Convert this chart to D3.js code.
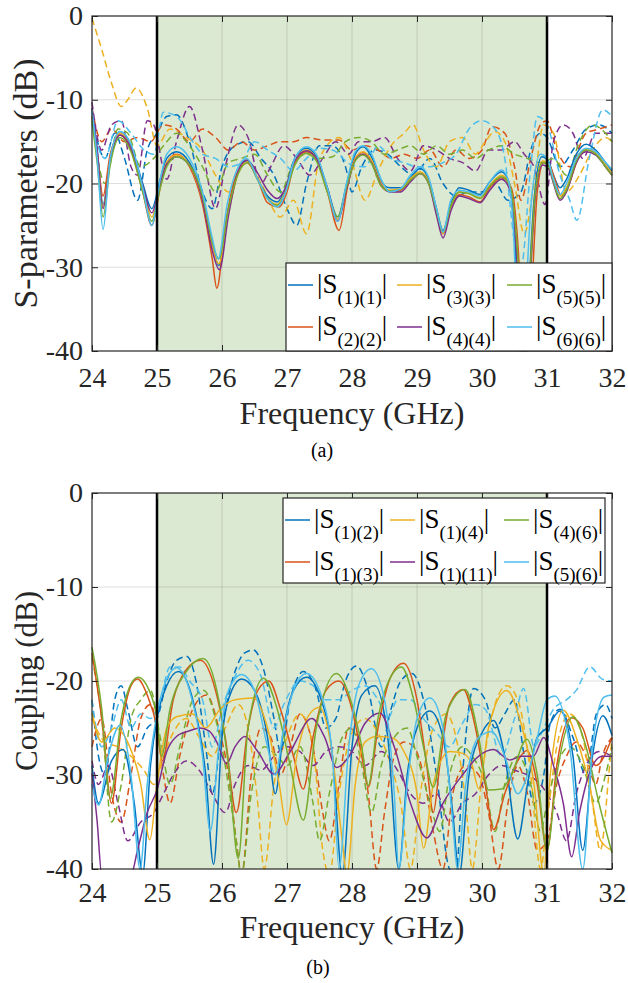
<!DOCTYPE html>
<html><head><meta charset="utf-8">
<script src="https://cdn.jsdelivr.net/npm/d3@7"></script>
</head><body style="margin:0">
<svg id="c" width="628" height="983" font-family="Liberation Serif, Times New Roman, serif"></svg>
<script>
// ---------------- shared axis data ----------------
const freqTicks = [24, 25, 26, 27, 28, 29, 30, 31, 32];
const dbTicks = [0, -10, -20, -30, -40];
const bandStart = 25, bandEnd = 31;
const seriesColors = ["#0072BD", "#D95319", "#EDB120", "#7E2F8E", "#77AC30", "#4DBEEE"];

// ---------------- panel (a): reflection, solid ----------------
const topS11 = [[24.0,-11.5],[24.08,-16],[24.17,-22.5],[24.28,-17],[24.43,-13.8],[24.6,-15.5],[24.78,-20],[24.92,-23],[25.05,-19.5],[25.15,-17],[25.3,-16.2],[25.5,-17.5],[25.7,-21.5],[25.85,-27],[25.95,-29.8],[26.1,-23],[26.25,-18.5],[26.38,-17.3],[26.55,-19.5],[26.7,-21.5],[26.85,-22.2],[26.98,-20.5],[27.12,-17],[27.3,-15.8],[27.45,-16.8],[27.62,-20.5],[27.78,-24],[27.92,-20],[28.05,-16.5],[28.17,-15.6],[28.3,-16.8],[28.45,-19.8],[28.58,-20.5],[28.75,-20.5],[28.9,-19.3],[29.05,-18.2],[29.18,-19.5],[29.3,-23],[29.4,-25.6],[29.52,-22.5],[29.65,-20.5],[29.8,-20.8],[29.97,-21.3],[30.12,-19.8],[30.3,-18.6],[30.42,-20],[30.5,-26],[30.58,-38],[30.62,-44],[30.7,-35],[30.8,-22],[30.92,-16.8],[31.02,-17.3],[31.1,-19],[31.2,-20.5],[31.3,-19.5],[31.45,-16.5],[31.6,-15.3],[31.75,-16],[31.9,-17.5],[32.0,-18.5]];
const topS22 = [[24.0,-12],[24.08,-16.5],[24.17,-21.5],[24.28,-16.5],[24.43,-14.2],[24.6,-16],[24.78,-21],[24.92,-25],[25.05,-20.5],[25.15,-17.5],[25.3,-16.5],[25.5,-18],[25.7,-22.5],[25.85,-29],[25.92,-32.5],[26.05,-25],[26.22,-19],[26.38,-17.5],[26.55,-19.5],[26.7,-22.3],[26.88,-22.8],[27.0,-21],[27.12,-17.5],[27.3,-16.2],[27.45,-17],[27.62,-21],[27.8,-25.6],[27.93,-20.5],[28.05,-17],[28.17,-16.3],[28.3,-17.3],[28.45,-20.3],[28.6,-21],[28.75,-20.8],[28.9,-19.6],[29.05,-18.8],[29.18,-20],[29.3,-23.5],[29.4,-26],[29.52,-23],[29.65,-21.3],[29.8,-21.6],[29.97,-22.2],[30.12,-20.5],[30.3,-19.3],[30.45,-20.5],[30.55,-27],[30.63,-38],[30.68,-45],[30.75,-35],[30.85,-21],[30.95,-17.5],[31.05,-18],[31.12,-19.5],[31.22,-21.5],[31.32,-20.5],[31.47,-17.2],[31.62,-16],[31.78,-16.5],[31.9,-18],[32.0,-19]];
const topS33 = [[24.0,-11.8],[24.08,-16.5],[24.17,-22.8],[24.28,-17.2],[24.43,-14],[24.6,-15.8],[24.78,-20.5],[24.92,-24],[25.05,-20],[25.15,-17.5],[25.3,-16.6],[25.5,-17.8],[25.7,-22],[25.85,-27.5],[25.95,-29.6],[26.1,-23.5],[26.25,-18.8],[26.4,-17.4],[26.55,-19.4],[26.7,-21.8],[26.85,-22.5],[26.98,-20.8],[27.12,-17.3],[27.3,-16],[27.45,-17],[27.62,-20.8],[27.78,-24.3],[27.92,-20.3],[28.05,-17],[28.17,-16.2],[28.3,-17.2],[28.45,-20],[28.58,-20.8],[28.75,-20.6],[28.9,-19.4],[29.05,-18.6],[29.18,-19.8],[29.3,-23.3],[29.4,-26],[29.52,-22.8],[29.65,-21],[29.8,-21.2],[29.97,-21.7],[30.12,-20.2],[30.3,-19],[30.43,-20.3],[30.52,-26],[30.6,-36],[30.65,-42],[30.72,-34],[30.82,-21.5],[30.93,-17.3],[31.03,-17.8],[31.1,-19.5],[31.2,-21.5],[31.3,-20.5],[31.45,-17],[31.6,-15.9],[31.75,-16.4],[31.9,-17.8],[32.0,-18.8]];
const topS44 = [[24.0,-11],[24.08,-16],[24.17,-23],[24.28,-17.3],[24.43,-14.2],[24.6,-15.8],[24.78,-20.3],[24.92,-23.5],[25.05,-20],[25.15,-17.7],[25.3,-16.8],[25.5,-17.8],[25.7,-22],[25.85,-28],[25.96,-30.3],[26.1,-23.8],[26.25,-18.5],[26.38,-17.2],[26.55,-18.8],[26.7,-20.8],[26.85,-21.8],[26.98,-20.5],[27.12,-17.3],[27.3,-16.1],[27.45,-17],[27.62,-20.5],[27.78,-24.5],[27.92,-20.5],[28.05,-17.2],[28.17,-16.5],[28.3,-17.5],[28.45,-20.2],[28.58,-21],[28.75,-21],[28.9,-19.8],[29.05,-18.8],[29.18,-20],[29.3,-23.8],[29.4,-26.5],[29.52,-23.3],[29.65,-21.5],[29.8,-21.8],[29.97,-22.3],[30.12,-20.8],[30.3,-19.5],[30.43,-20.8],[30.52,-27],[30.6,-38],[30.64,-44],[30.72,-34],[30.82,-21.5],[30.93,-17.8],[31.03,-18.3],[31.1,-20],[31.2,-22],[31.3,-21],[31.45,-17.5],[31.6,-16.2],[31.75,-16.6],[31.9,-18],[32.0,-19]];
const topS55 = [[24.0,-12.5],[24.08,-17.5],[24.17,-24],[24.28,-17.8],[24.43,-14.5],[24.6,-16.2],[24.78,-21],[24.92,-24.5],[25.05,-20.5],[25.15,-18],[25.3,-16.8],[25.5,-17.8],[25.7,-21.5],[25.85,-27],[25.95,-29],[26.1,-23],[26.25,-18.8],[26.4,-17.5],[26.55,-19.6],[26.7,-21.8],[26.85,-22.6],[26.98,-21],[27.12,-17.8],[27.3,-16.4],[27.45,-17.3],[27.62,-21],[27.78,-24],[27.92,-20.3],[28.05,-17.3],[28.17,-16.6],[28.3,-17.6],[28.45,-20.3],[28.58,-20.9],[28.75,-20.7],[28.9,-19.6],[29.05,-18.8],[29.18,-20],[29.3,-23.2],[29.4,-25.8],[29.52,-22.7],[29.65,-21],[29.8,-21.2],[29.97,-21.8],[30.12,-20.3],[30.3,-19.2],[30.43,-20.3],[30.52,-25.5],[30.6,-35],[30.65,-41],[30.72,-33],[30.82,-21],[30.93,-17.5],[31.03,-18],[31.1,-19.8],[31.2,-21.8],[31.3,-20.8],[31.45,-17.3],[31.6,-16],[31.75,-16.5],[31.9,-18],[32.0,-19]];
const topS66 = [[24.0,-11.2],[24.08,-17],[24.17,-25.5],[24.28,-17],[24.43,-13.8],[24.6,-15.3],[24.78,-20.5],[24.92,-25],[25.05,-19.5],[25.15,-16.5],[25.3,-15.6],[25.5,-17],[25.7,-21],[25.85,-26.5],[25.94,-29],[26.08,-22.5],[26.25,-18],[26.38,-17],[26.55,-19.5],[26.7,-21.8],[26.85,-22.8],[26.98,-21],[27.12,-17],[27.3,-15.6],[27.45,-16.5],[27.62,-20.5],[27.78,-24.5],[27.92,-19.8],[28.05,-16.2],[28.17,-15.5],[28.3,-16.5],[28.45,-19.5],[28.58,-21],[28.75,-20.6],[28.9,-19],[29.05,-18],[29.18,-19.3],[29.3,-23],[29.4,-25.8],[29.52,-22],[29.65,-20.8],[29.8,-21],[29.97,-21.5],[30.12,-19.8],[30.3,-18.4],[30.4,-19.5],[30.48,-25],[30.55,-38],[30.58,-45],[30.66,-35],[30.76,-22],[30.9,-16.5],[31.0,-17],[31.1,-19.5],[31.2,-21.3],[31.3,-20],[31.45,-17],[31.6,-15.8],[31.75,-16.2],[31.9,-17.5],[32.0,-18.3]];

// ---------------- panel (a): reflection, dashed ----------------
const topS11d = [[24.0,-12],[24.2,-17],[24.35,-14],[24.5,-17],[24.7,-22],[24.85,-16],[25.0,-14],[25.15,-12],[25.3,-11.8],[25.5,-15],[25.7,-21],[25.85,-23],[26.0,-18],[26.2,-15.5],[26.4,-15],[26.6,-17],[26.8,-19],[27.0,-23],[27.15,-25],[27.3,-20],[27.5,-15.5],[27.7,-15.5],[27.9,-18],[28.0,-21],[28.15,-18],[28.35,-16],[28.55,-16.5],[28.75,-18],[28.95,-19],[29.2,-17],[29.4,-20],[29.6,-21.5],[29.8,-21],[30.0,-21],[30.2,-20],[30.4,-22],[30.6,-21],[30.75,-16],[30.9,-14],[31.0,-14.5],[31.2,-18],[31.4,-16],[31.6,-13.5],[31.8,-13],[32.0,-14]];
const topS22d = [[24.0,-11],[24.15,-15],[24.3,-13.5],[24.5,-15],[24.7,-14.5],[24.9,-15],[25.1,-13],[25.3,-13.5],[25.5,-15],[25.7,-13.5],[25.9,-14.5],[26.1,-16],[26.3,-15],[26.5,-16],[26.7,-15.5],[26.9,-15],[27.1,-15],[27.3,-14.5],[27.55,-14.8],[27.8,-14.8],[28.0,-16],[28.2,-15.5],[28.4,-16],[28.6,-17],[28.8,-16.5],[29.0,-17],[29.2,-16],[29.4,-18],[29.6,-16],[29.8,-17],[30.0,-16],[30.15,-13.2],[30.35,-14],[30.5,-18],[30.6,-22],[30.75,-17],[30.9,-13],[31.0,-12.5],[31.15,-16],[31.35,-18],[31.6,-14],[31.8,-13.5],[32.0,-13]];
const topS33d = [[24.0,-0.3],[24.15,-4],[24.3,-8],[24.45,-10.8],[24.55,-10],[24.68,-8.6],[24.85,-11],[25.0,-15.5],[25.2,-13.5],[25.45,-14.5],[25.7,-16],[25.9,-19],[26.1,-21],[26.35,-17],[26.6,-20],[26.9,-24],[27.1,-22],[27.3,-26],[27.5,-17],[27.8,-14.5],[28.0,-17.5],[28.2,-22],[28.4,-18.5],[28.6,-15.5],[28.8,-14],[28.94,-13],[29.1,-16],[29.3,-18],[29.5,-15],[29.7,-14.5],[29.9,-16.5],[30.05,-15],[30.2,-13.8],[30.35,-15],[30.5,-20],[30.65,-26],[30.8,-20],[30.95,-13],[31.1,-14],[31.3,-21],[31.5,-19],[31.7,-16],[31.9,-14.5],[32.0,-15]];
const topS44d = [[24.0,-10.3],[24.15,-16],[24.3,-13],[24.45,-12.5],[24.6,-18],[24.7,-19],[24.85,-12.5],[24.95,-13],[25.15,-19.5],[25.3,-15],[25.5,-10.8],[25.7,-16],[25.9,-23],[26.05,-18],[26.25,-13],[26.4,-14.5],[26.6,-20],[26.75,-18],[26.95,-15.5],[27.15,-17],[27.35,-19],[27.55,-17],[27.75,-15],[27.95,-16.5],[28.1,-15],[28.3,-15],[28.5,-14.5],[28.7,-17],[28.9,-18.5],[29.1,-15.5],[29.3,-16],[29.5,-17],[29.7,-17.5],[29.9,-18.5],[30.1,-16],[30.3,-16],[30.5,-15],[30.65,-16.5],[30.8,-18],[30.97,-22.5],[31.1,-15],[31.25,-13],[31.4,-14],[31.55,-17],[31.75,-14],[32.0,-14]];
const topS55d = [[24.0,-12],[24.2,-20],[24.4,-13.5],[24.55,-14],[24.75,-18],[24.95,-17],[25.1,-15.5],[25.3,-14],[25.5,-15.5],[25.7,-18],[25.9,-21],[26.1,-17.5],[26.3,-17],[26.5,-16.5],[26.7,-19],[26.9,-21],[27.1,-17.5],[27.3,-16.5],[27.5,-17],[27.7,-16.8],[27.9,-15],[28.1,-14.5],[28.3,-15],[28.5,-16.5],[28.7,-16],[28.9,-15.5],[29.1,-16.5],[29.3,-15.5],[29.5,-16.5],[29.7,-16],[29.9,-17],[30.1,-16],[30.3,-15.5],[30.5,-16.5],[30.7,-17],[30.9,-17.5],[31.1,-17],[31.3,-19],[31.5,-15],[31.7,-13],[31.9,-14],[32.0,-15]];
const topS66d = [[24.0,-13],[24.2,-17],[24.4,-12.5],[24.6,-14],[24.8,-16],[24.95,-16.5],[25.1,-11.5],[25.3,-12],[25.55,-15],[25.7,-16.5],[25.9,-17],[26.1,-18],[26.3,-17.5],[26.5,-15],[26.7,-16],[26.9,-17],[27.1,-18.5],[27.3,-17],[27.5,-15.8],[27.7,-16],[28.0,-17.8],[28.2,-18],[28.4,-15.5],[28.6,-17],[28.8,-17.5],[29.0,-18],[29.2,-18],[29.4,-17.5],[29.6,-16.5],[29.8,-13.5],[30.0,-12.5],[30.2,-13.5],[30.35,-17],[30.5,-27],[30.6,-30],[30.75,-18],[30.85,-12],[31.0,-13],[31.2,-19],[31.35,-22],[31.46,-24.4],[31.65,-17],[31.86,-11.2],[32.0,-12]];

// ---------------- panel (b): coupling, solid ----------------
const botS12 = [[24.0,-29],[24.1,-33],[24.3,-28.5],[24.48,-27.3],[24.65,-33],[24.78,-40.5],[24.9,-29],[25.0,-24],[25.15,-20.5],[25.33,-19],[25.55,-22],[25.75,-30],[25.87,-39.5],[26.0,-26],[26.15,-21],[26.3,-19.8],[26.5,-21],[26.7,-26],[26.82,-32],[26.95,-25],[27.1,-21],[27.3,-19.6],[27.5,-21.5],[27.7,-28],[27.85,-41],[28.0,-27],[28.15,-21.5],[28.35,-20.5],[28.55,-26],[28.72,-40],[28.85,-30],[29.0,-25],[29.2,-23.2],[29.4,-26],[29.55,-34],[29.65,-41],[29.8,-30],[30.0,-25.5],[30.18,-24.2],[30.35,-28],[30.55,-36.8],[30.7,-31],[30.85,-26],[31.0,-25],[31.2,-23.2],[31.4,-28],[31.55,-38],[31.7,-28],[31.86,-23.7],[32.0,-25.8]];
const botS13 = [[24.0,-17],[24.15,-24],[24.3,-33],[24.45,-25],[24.6,-20.5],[24.7,-19.8],[24.85,-21.5],[25.0,-25],[25.08,-28.5],[25.25,-22],[25.45,-18.8],[25.67,-17.8],[25.9,-21],[26.05,-26],[26.22,-34],[26.4,-25],[26.55,-21],[26.72,-20],[26.9,-23],[27.1,-28],[27.25,-31.5],[27.4,-26],[27.6,-21],[27.8,-20],[28.0,-23],[28.15,-28],[28.25,-31.3],[28.4,-25],[28.6,-19.5],[28.79,-18.1],[29.0,-22],[29.15,-29],[29.25,-34],[29.35,-29],[29.5,-22.5],[29.71,-20.9],[29.9,-25],[30.05,-31],[30.18,-35.8],[30.35,-32],[30.55,-28.5],[30.69,-27.4],[30.85,-31],[31.0,-38],[31.15,-29],[31.37,-23.9],[31.55,-25],[31.75,-29],[32.0,-26]];
const botS14 = [[24.0,-23.4],[24.15,-26.5],[24.35,-25],[24.55,-26.5],[24.75,-31],[24.89,-36.9],[25.0,-31],[25.15,-25],[25.3,-23.8],[25.55,-23.5],[25.75,-25],[25.97,-23],[26.2,-22],[26.48,-21.8],[26.7,-25],[26.88,-31],[26.99,-35.3],[27.15,-28],[27.35,-23.5],[27.5,-22.8],[27.68,-27],[27.85,-37],[27.92,-41],[28.05,-31],[28.2,-26.5],[28.38,-25.9],[28.6,-26],[28.8,-27.5],[29.0,-32],[29.1,-37.8],[29.25,-31],[29.5,-27.5],[29.71,-27.7],[29.85,-29],[29.95,-31.5],[30.1,-25],[30.38,-21],[30.6,-24.5],[30.8,-31],[30.95,-40.5],[31.05,-30],[31.25,-23.1],[31.45,-26],[31.65,-31],[31.82,-36.9],[32.0,-38]];
const botS111 = [[24.0,-29.8],[24.08,-35],[24.15,-42],[24.4,-45],[24.6,-42],[24.7,-38],[24.85,-34],[25.0,-31.6],[25.15,-27.5],[25.3,-25.9],[25.5,-25.3],[25.66,-25],[25.8,-25.3],[25.92,-26.5],[26.07,-28.8],[26.2,-27],[26.35,-25.9],[26.55,-27.5],[26.8,-29.9],[27.05,-27.5],[27.38,-24],[27.58,-26],[27.76,-29.2],[28.0,-27.5],[28.2,-24.5],[28.43,-23.4],[28.65,-27],[28.9,-33],[29.15,-36.7],[29.4,-33],[29.7,-30],[29.95,-28],[30.17,-27.3],[30.43,-28.4],[30.6,-28],[30.79,-28],[30.95,-26],[31.1,-29],[31.25,-33],[31.38,-38.7],[31.5,-34],[31.7,-29],[31.85,-28],[32.0,-28]];
const botS46 = [[24.0,-16.4],[24.15,-23],[24.28,-32.5],[24.45,-24],[24.6,-20.3],[24.71,-19.6],[24.88,-21],[25.0,-24],[25.07,-28],[25.2,-23],[25.45,-19],[25.71,-17.6],[25.95,-22],[26.1,-29],[26.25,-38.9],[26.4,-25],[26.64,-19.7],[26.85,-23],[27.05,-29],[27.25,-34.8],[27.45,-25],[27.76,-19.2],[28.0,-22.5],[28.15,-27],[28.25,-31.1],[28.4,-24],[28.6,-19.5],[28.76,-18.5],[28.95,-22],[29.1,-27],[29.25,-31.3],[29.45,-23.5],[29.74,-20.9],[29.95,-26],[30.1,-31.6],[30.3,-31.5],[30.45,-30],[30.69,-26.2],[30.85,-30],[31.0,-38],[31.15,-30],[31.4,-23.8],[31.6,-27],[31.8,-33],[32.0,-38.3]];
const botS56 = [[24.0,-31],[24.1,-33.2],[24.25,-28],[24.43,-24.7],[24.6,-30],[24.74,-40],[24.85,-31],[25.0,-23.5],[25.15,-19.8],[25.3,-18.6],[25.5,-21],[25.7,-28],[25.82,-36],[25.95,-27],[26.1,-21],[26.3,-19.3],[26.5,-21],[26.7,-27],[26.82,-30],[26.95,-25],[27.1,-21],[27.3,-19.2],[27.5,-21],[27.7,-28],[27.8,-40],[27.95,-27],[28.1,-20.5],[28.3,-18.7],[28.5,-22],[28.65,-32],[28.72,-40],[28.85,-31],[29.0,-24],[29.2,-21.8],[29.4,-25],[29.55,-35],[29.62,-40],[29.75,-31],[29.95,-26],[30.15,-25.4],[30.35,-28],[30.55,-32],[30.7,-30],[30.85,-26],[31.0,-22],[31.12,-21.6],[31.35,-27],[31.55,-40],[31.7,-27],[31.88,-21.7],[32.0,-21.5]];

// ---------------- panel (b): coupling, dashed ----------------
const botS12d = [[24.0,-22],[24.1,-28],[24.2,-30],[24.35,-22],[24.45,-20.5],[24.55,-23],[24.7,-27],[24.85,-25],[25.0,-24],[25.15,-20],[25.3,-17.8],[25.46,-17.4],[25.6,-20],[25.75,-27],[25.85,-32],[26.0,-25],[26.2,-19],[26.35,-17],[26.48,-16.7],[26.65,-19],[26.8,-24],[26.9,-27.5],[27.05,-22],[27.25,-19],[27.45,-21],[27.6,-25],[27.75,-24],[27.9,-20],[28.07,-18.4],[28.25,-21],[28.45,-27],[28.6,-23],[28.75,-20],[28.92,-19.2],[29.1,-22],[29.3,-30],[29.5,-40],[29.6,-41],[29.7,-30],[29.87,-20.8],[30.05,-22],[30.2,-25],[30.35,-23.5],[30.5,-22],[30.65,-28],[30.8,-33],[30.95,-30],[31.05,-24.5],[31.2,-23],[31.4,-26],[31.6,-30],[31.76,-23.5],[31.9,-22.5],[32.0,-24]];
const botS13d = [[24.0,-27],[24.15,-24],[24.3,-32],[24.45,-35],[24.6,-30],[24.75,-24],[24.9,-22.5],[25.0,-25],[25.1,-30],[25.2,-33],[25.35,-28],[25.55,-23],[25.76,-21.5],[25.95,-25],[26.1,-30],[26.22,-37],[26.3,-42],[26.45,-30],[26.6,-25],[26.75,-26],[26.9,-30],[27.05,-27],[27.2,-23.5],[27.4,-27],[27.55,-34],[27.65,-37],[27.8,-31],[27.95,-25],[28.1,-26],[28.25,-32],[28.38,-40],[28.5,-34],[28.65,-28],[28.8,-26.5],[28.95,-27],[29.1,-30],[29.25,-36],[29.4,-40],[29.55,-32],[29.75,-29],[29.95,-30],[30.1,-34],[30.25,-40],[30.4,-33],[30.55,-29],[30.7,-32],[30.85,-38],[31.0,-37],[31.15,-31],[31.3,-28],[31.45,-26.5],[31.6,-28],[31.75,-31],[31.85,-28],[32.0,-26]];
const botS14d = [[24.0,-24],[24.2,-26.5],[24.4,-27],[24.6,-28],[24.8,-29.5],[24.95,-31],[25.1,-28],[25.25,-25.5],[25.45,-24],[25.65,-26],[25.85,-28],[26.05,-25],[26.25,-22.5],[26.4,-25],[26.55,-33],[26.65,-40],[26.8,-31],[27.0,-26],[27.2,-23.5],[27.4,-27],[27.55,-38],[27.65,-42],[27.8,-32],[28.0,-25.5],[28.2,-24],[28.4,-25.5],[28.6,-29],[28.75,-33],[28.9,-40],[29.05,-32],[29.25,-25],[29.45,-23.5],[29.6,-26],[29.75,-33],[29.85,-40],[30.0,-30],[30.2,-22.5],[30.38,-20.5],[30.55,-22],[30.75,-30],[30.9,-40],[31.0,-35],[31.15,-27],[31.35,-23.5],[31.55,-26],[31.7,-33],[31.82,-38],[31.95,-30],[32.0,-26]];
const botS111d = [[24.0,-28.5],[24.1,-31],[24.25,-29],[24.4,-33],[24.55,-37],[24.75,-35],[24.95,-34],[25.1,-32],[25.25,-30],[25.45,-28.5],[25.65,-29.5],[25.85,-32],[26.05,-34],[26.2,-31],[26.4,-29],[26.6,-29.5],[26.8,-28],[27.0,-27],[27.2,-27.5],[27.4,-29],[27.6,-27.5],[27.8,-27],[28.0,-27.5],[28.2,-29],[28.45,-27.5],[28.7,-29.5],[28.9,-32],[29.1,-33],[29.3,-32],[29.5,-35],[29.7,-33],[29.9,-32],[30.1,-30],[30.3,-29],[30.5,-29.5],[30.7,-30],[30.9,-31],[31.0,-32],[31.15,-34],[31.3,-37],[31.45,-32],[31.6,-29],[31.8,-27.5],[32.0,-28]];
const botS46d = [[24.0,-17.5],[24.15,-24],[24.3,-35],[24.45,-31],[24.6,-24],[24.75,-22],[24.9,-21],[25.05,-26],[25.2,-31],[25.35,-27],[25.55,-22],[25.72,-21],[25.9,-24],[26.05,-29],[26.2,-36],[26.3,-42],[26.45,-32],[26.65,-27],[26.85,-28],[27.0,-29],[27.2,-27],[27.4,-33],[27.5,-37],[27.65,-32],[27.85,-26],[28.0,-25],[28.15,-29],[28.3,-34],[28.45,-29],[28.65,-26],[28.85,-25],[29.0,-28],[29.2,-33],[29.35,-36],[29.5,-30],[29.7,-27],[29.85,-28],[30.05,-31],[30.2,-36],[30.35,-31],[30.55,-28],[30.75,-31],[30.9,-36],[31.0,-33],[31.15,-29],[31.35,-27],[31.55,-29],[31.75,-33],[31.9,-30],[32.0,-27]];
const botS56d = [[24.0,-22],[24.15,-27],[24.3,-25],[24.45,-22],[24.6,-25],[24.75,-23.5],[24.9,-24],[25.05,-22],[25.2,-18.5],[25.35,-18.5],[25.5,-20],[25.7,-22],[25.85,-27],[26.0,-23],[26.2,-19.5],[26.4,-17.8],[26.6,-19.5],[26.8,-25],[26.95,-22.5],[27.2,-20],[27.4,-20.5],[27.6,-22],[27.8,-22],[28.0,-21],[28.2,-20.5],[28.4,-22],[28.55,-24],[28.7,-22],[28.9,-22],[29.1,-24],[29.3,-25.5],[29.5,-27],[29.7,-24.5],[29.9,-22.5],[30.05,-23],[30.3,-28],[30.5,-24],[30.64,-20.8],[30.8,-27],[30.95,-25],[31.1,-23],[31.3,-22],[31.45,-21],[31.66,-18.5],[31.85,-19.8],[32.0,-20]];

// ---------------- legend labels ----------------
const topLegendSubs = ["(1)(1)", "(2)(2)", "(3)(3)", "(4)(4)", "(5)(5)", "(6)(6)"];
const botLegendSubs = ["(1)(2)", "(1)(3)", "(1)(4)", "(1)(11)", "(4)(6)", "(5)(6)"];

// ---------------- drawing ----------------
const SERIF = "Liberation Serif";
const svg = d3.select("#c");
const x = d3.scaleLinear().domain([24, 32]).range([92, 612]);

function drawPanel(cfg) {
  const y = d3.scaleLinear().domain([-40, 0]).range([cfg.bottom, cfg.top]);
  const g = svg.append("g");

  g.append("rect").attr("x", x(bandStart)).attr("y", y(0))
    .attr("width", x(bandEnd) - x(bandStart)).attr("height", y(-40) - y(0))
    .attr("fill", "#dce9d2");

  const grid = g.append("g").attr("stroke", "rgba(38,38,38,0.15)").attr("stroke-width", 1);
  grid.selectAll("line.v").data(freqTicks.slice(1, -1)).join("line").attr("class", "v")
    .attr("x1", d => x(d)).attr("x2", d => x(d)).attr("y1", y(0)).attr("y2", y(-40));
  grid.selectAll("line.h").data(dbTicks.slice(1, -1)).join("line").attr("class", "h")
    .attr("x1", x(24)).attr("x2", x(32)).attr("y1", d => y(d)).attr("y2", d => y(d));

  const line = d3.line().x(d => x(d[0])).y(d => y(Math.max(-40.6, d[1]))).curve(d3.curveMonotoneX);
  const curves = g.append("g").attr("fill", "none").attr("stroke-width", 1.5);
  cfg.dashed.forEach((s, i) => {
    curves.append("path").attr("d", line(s)).attr("stroke", seriesColors[i]).attr("stroke-dasharray", "7,4");
  });
  cfg.solid.forEach((s, i) => {
    curves.append("path").attr("d", line(s)).attr("stroke", seriesColors[i]);
  });
  // mask everything that falls under the -40 dB floor
  g.append("rect").attr("x", 60).attr("y", y(-40) + 0.6).attr("width", 568).attr("height", 50).attr("fill", "#fff");

  [bandStart, bandEnd].forEach(f => {
    g.append("line").attr("x1", x(f)).attr("x2", x(f)).attr("y1", y(0)).attr("y2", y(-40))
      .attr("stroke", "#000").attr("stroke-width", 2.5);
  });

  const axB = g.append("g").attr("transform", `translate(0,${y(-40)})`)
    .call(d3.axisBottom(x).tickValues(freqTicks).tickSizeInner(-6).tickSizeOuter(0).tickPadding(cfg.xPad).tickFormat(d3.format("d")));
  const axL = g.append("g").attr("transform", `translate(${x(24)},0)`)
    .call(d3.axisLeft(y).tickValues(dbTicks).tickSizeInner(-6).tickSizeOuter(0).tickPadding(9).tickFormat(d => String(d)));
  const axT = g.append("g").attr("transform", `translate(0,${y(0)})`)
    .call(d3.axisTop(x).tickValues(freqTicks).tickSizeInner(-6).tickSizeOuter(0).tickFormat(""));
  const axR = g.append("g").attr("transform", `translate(${x(32)},0)`)
    .call(d3.axisRight(y).tickValues(dbTicks).tickSizeInner(-6).tickSizeOuter(0).tickFormat(""));
  [axB, axL, axT, axR].forEach(a => {
    a.select(".domain").remove();
    a.attr("font-family", SERIF).attr("font-size", 28);
    a.selectAll("line").attr("stroke", "#262626");
    a.selectAll("text").attr("fill", "#262626");
  });
  g.append("rect").attr("x", x(24)).attr("y", y(0)).attr("width", x(32) - x(24)).attr("height", y(-40) - y(0))
    .attr("fill", "none").attr("stroke", "#262626").attr("stroke-width", 1.2);

  g.append("text").attr("font-family", SERIF).attr("x", (x(24) + x(32)) / 2).attr("y", cfg.xTitleY).attr("text-anchor", "middle")
    .attr("font-size", 32).attr("fill", "#262626").text("Frequency (GHz)");
  g.append("text").attr("font-family", SERIF).attr("transform", `translate(37,${(y(0) + y(-40)) / 2}) rotate(-90)`).attr("text-anchor", "middle")
    .attr("font-size", cfg.yTitleSize).attr("fill", "#262626").text(cfg.yTitle);
  g.append("text").attr("font-family", SERIF).attr("x", cfg.capX).attr("y", cfg.capY).attr("text-anchor", "middle")
    .attr("font-size", 20).attr("fill", "#000").text(cfg.caption);

  const L = cfg.legend;
  const lg = g.append("g");
  lg.append("rect").attr("x", L.x0).attr("y", L.y0).attr("width", L.x1 - L.x0).attr("height", L.y1 - L.y0)
    .attr("fill", "#fff").attr("stroke", "#262626").attr("stroke-width", 1.2);
  L.subs.forEach((sub, i) => {
    const col = Math.floor(i / 2), row = i % 2;
    const ly = L.rows[row], lx = L.cols[col];
    lg.append("line").attr("x1", lx).attr("x2", lx + 25).attr("y1", ly).attr("y2", ly)
      .attr("stroke", seriesColors[i]).attr("stroke-width", 1.5);
    const t = lg.append("text").attr("font-family", SERIF).attr("x", lx + 29).attr("y", ly + 8)
      .attr("font-size", 27).attr("fill", "#000");
    t.append("tspan").text("|S");
    t.append("tspan").attr("dy", 11).attr("font-size", 19).text(sub);
    t.append("tspan").attr("dy", -11).attr("font-size", 27).text("|");
  });
}

drawPanel({
  name: "a", top: 16, bottom: 351, xPad: 16, xTitleY: 424, yTitle: "S-parameters (dB)", yTitleSize: 34,
  caption: "(a)", capX: 322, capY: 457,
  solid: [topS11, topS22, topS33, topS44, topS55, topS66],
  dashed: [topS11d, topS22d, topS33d, topS44d, topS55d, topS66d],
  legend: { x0: 286, y0: 263, x1: 612, y1: 351, rows: [285, 327], cols: [288, 397, 507], subs: topLegendSubs }
});
drawPanel({
  name: "b", top: 493, bottom: 869, xPad: 13, xTitleY: 938, yTitle: "Coupling (dB)", yTitleSize: 31,
  caption: "(b)", capX: 318, capY: 974,
  solid: [botS12, botS13, botS14, botS111, botS46, botS56],
  dashed: [botS12d, botS13d, botS14d, botS111d, botS46d, botS56d],
  legend: { x0: 283, y0: 498, x1: 605, y1: 583, rows: [520, 562], cols: [285, 390, 504], subs: botLegendSubs }
});
</script>
</body></html>
